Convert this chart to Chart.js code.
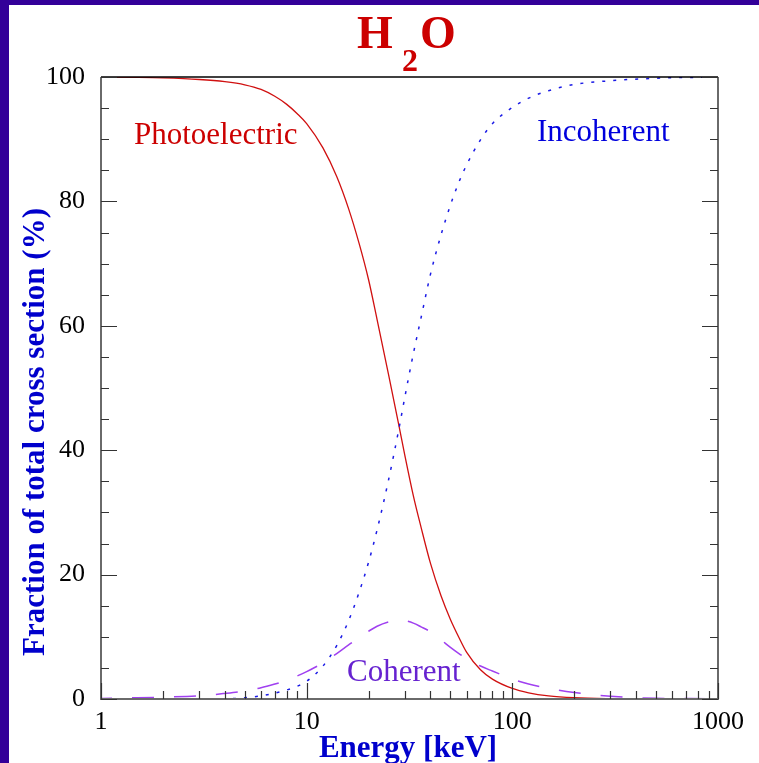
<!DOCTYPE html>
<html>
<head>
<meta charset="utf-8">
<script src="https://cdn.jsdelivr.net/npm/chart.js@4.4.1/dist/chart.umd.min.js"></script>
<style>
  html, body { margin: 0; padding: 0; background: #fff; }
  #wrap { width: 759px; height: 763px; }
</style>
</head>
<body>
<div id="wrap"><canvas id="myChart" width="759" height="763"></canvas></div>
<script>
// photon energy grid (keV)
var energy = [1, 1.5, 2, 3, 4, 5, 6, 7, 8, 9, 10, 12, 14, 16, 18, 20, 22, 25, 28, 30, 33, 36, 40, 45, 50, 55, 60, 70, 80, 100, 120, 150, 200, 300, 500, 1000];

// fraction of total cross section (%) for each process
var photo = [99.98, 99.93, 99.85, 99.6, 99.25, 98.75, 98.0, 96.9, 95.6, 94.1, 92.5, 88.6, 84.0, 78.8, 73.2, 67.4, 61.0, 52.2, 44.2, 39.2, 32.7, 27.6, 21.8, 16.6, 12.8, 9.9, 7.5, 4.7, 3.2, 1.7, 1.0, 0.5, 0.2, 0.05, 0, 0];
var incoh = [0, 0, 0, 0, 0.02, 0.2, 0.5, 0.95, 1.45, 2.05, 2.85, 5.3, 8.6, 12.6, 17.2, 22.0, 27.2, 35.2, 43.2, 48.5, 55.5, 61.3, 68.3, 74.6, 79.4, 83.1, 85.9, 89.9, 92.5, 95.1, 96.6, 97.8, 98.8, 99.4, 99.8, 100];
var coh = [0.1, 0.2, 0.3, 0.5, 0.9, 1.3, 1.8, 2.4, 3.0, 3.7, 4.4, 5.8, 7.3, 8.7, 9.9, 10.9, 11.7, 12.4, 12.7, 12.6, 12.2, 11.6, 10.8, 9.5, 8.3, 7.3, 6.5, 5.3, 4.5, 3.2, 2.4, 1.7, 1.05, 0.45, 0.12, 0.05];

var xTicks = [1, 10, 100, 1000];
var xMinor = [2, 3, 4, 5, 6, 7, 8, 9, 20, 30, 40, 50, 60, 70, 80, 90, 200, 300, 400, 500, 600, 700, 800, 900];
var yMajor = [0, 20, 40, 60, 80, 100];
var yMinor = [5, 10, 15, 25, 30, 35, 45, 50, 55, 65, 70, 75, 85, 90, 95];

var serif = "'Liberation Serif', 'Times New Roman', serif";

function pts(arr) {
  return energy.map(function(e, i) { return { x: e, y: arr[i] }; });
}

// background, title, frame, inward ticks and curve labels
var decor = {
  id: 'decor',
  beforeDraw: function(chart) {
    var c = chart.ctx;
    c.save();
    c.fillStyle = '#ffffff';
    c.fillRect(0, 0, chart.width, chart.height);
    c.fillStyle = '#330099';
    c.fillRect(0, 0, 9, chart.height);
    c.fillRect(0, 0, chart.width, 5);
    c.restore();
  },
  afterDraw: function(chart) {
    var c = chart.ctx;
    var a = chart.chartArea;
    var xs = chart.scales.x, ys = chart.scales.y;
    c.save();

    // frame
    c.strokeStyle = '#6a6a6a';
    c.lineWidth = 2;
    c.beginPath();
    c.moveTo(a.left, a.top); c.lineTo(a.left, a.bottom); c.lineTo(a.right, a.bottom); c.lineTo(a.right, a.top);
    c.stroke();
    c.strokeStyle = '#000';
    c.lineWidth = 1.3;
    c.beginPath();
    c.moveTo(a.left, a.top); c.lineTo(a.right, a.top);
    c.stroke();

    // ticks
    c.strokeStyle = '#333';
    c.lineWidth = 1.2;
    c.beginPath();
    yMajor.concat(yMinor).forEach(function(v) {
      var len = yMajor.indexOf(v) >= 0 ? 16 : 8;
      var y = Math.round(ys.getPixelForValue(v)) + 0.5;
      c.moveTo(a.left, y); c.lineTo(a.left + len, y);
      c.moveTo(a.right, y); c.lineTo(a.right - len, y);
    });
    xTicks.concat(xMinor).forEach(function(v) {
      var len = xTicks.indexOf(v) >= 0 ? 16 : 8;
      var x = Math.round(xs.getPixelForValue(v)) + 0.5;
      c.moveTo(x, a.bottom); c.lineTo(x, a.bottom - len);
    });
    c.stroke();

    // title H2O
    c.fillStyle = '#cc0000';
    c.textAlign = 'left';
    c.textBaseline = 'alphabetic';
    c.font = 'bold 46px ' + serif;
    c.fillText('H', 357, 48);
    c.fillText('O', 420, 48);
    c.font = 'bold 32px ' + serif;
    c.fillText('2', 402, 71);

    // curve labels
    c.font = '31px ' + serif;
    c.fillStyle = '#cc0000';
    c.fillText('Photoelectric', 134, 144);
    c.fillStyle = '#0000dd';
    c.fillText('Incoherent', 537, 141);
    c.fillStyle = '#6622d0';
    c.fillText('Coherent', 347, 681);

    // axis titles
    c.fillStyle = '#0000cc';
    c.font = 'bold 31px ' + serif;
    c.textAlign = 'center';
    c.fillText('Energy [keV]', 408, 757);
    c.translate(36, 432);
    c.rotate(-Math.PI / 2);
    c.textBaseline = 'middle';
    c.fillText('Fraction of total cross section (%)', 0, 0);
    c.restore();
  }
};

var ctx = document.getElementById('myChart').getContext('2d');
var myChart = new Chart(ctx, {
  type: 'line',
  data: {
    datasets: [{
      label: 'Coherent',
      data: pts(coh),
      borderColor: '#a040f0',
      borderWidth: 1.5,
      borderDash: [22, 20],
      borderDashOffset: 11,
      pointRadius: 0,
      cubicInterpolationMode: 'monotone',
      fill: false
    }, {
      label: 'Incoherent',
      data: pts(incoh),
      borderColor: '#1a1ae6',
      borderWidth: 1.5,
      borderDash: [3, 8],
      pointRadius: 0,
      cubicInterpolationMode: 'monotone',
      fill: false
    }, {
      label: 'Photoelectric',
      data: pts(photo),
      borderColor: '#d01010',
      borderWidth: 1.3,
      pointRadius: 0,
      cubicInterpolationMode: 'monotone',
      fill: false
    }]
  },
  options: {
    responsive: false,
    animation: false,
    layout: { padding: { top: 77, right: 41, left: 0, bottom: 0 } },
    plugins: {
      legend: { display: false },
      title: { display: false },
      tooltip: { enabled: false }
    },
    scales: {
      x: {
        type: 'logarithmic',
        min: 1,
        max: 1000,
        afterBuildTicks: function(s) { s.ticks = xTicks.map(function(v) { return { value: v }; }); },
        afterFit: function(s) { s.height = 64; },
        grid: { display: false },
        border: { display: false },
        ticks: {
          autoSkip: false,
          maxRotation: 0,
          padding: 0,
          color: '#000',
          font: { family: serif, size: 26 },
          callback: function(v) { return String(v); }
        }
      },
      y: {
        min: 0,
        max: 100,
        afterFit: function(s) { s.width = 101; },
        grid: { display: false },
        border: { display: false },
        ticks: {
          stepSize: 20,
          padding: 8,
          color: '#000',
          font: { family: serif, size: 26 }
        }
      }
    }
  },
  plugins: [decor]
});
</script>
</body>
</html>
